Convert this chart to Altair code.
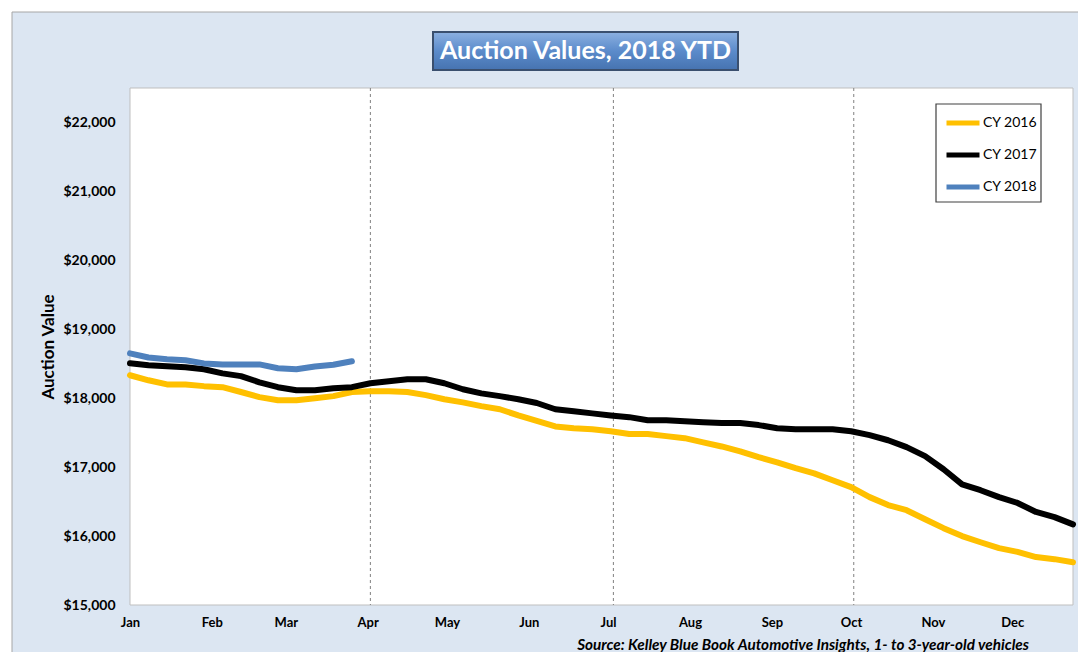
import altair as alt
import pandas as pd

# ---- data ----
week_days = [7 * w for w in range(52)]  # day of year for each weekly point

cy2016 = [18333, 18260, 18200, 18200, 18175, 18160, 18090, 18015, 17970, 17970,
          18000, 18030, 18090, 18100, 18100, 18090, 18045, 17985, 17940, 17885,
          17840, 17750, 17670, 17590, 17565, 17550, 17520, 17480, 17480, 17450,
          17420, 17360, 17300, 17230, 17145, 17070, 16985, 16910, 16810, 16710,
          16565, 16450, 16375, 16245, 16115, 16000, 15910, 15825, 15770, 15695,
          15665, 15620]
cy2017 = [18507, 18478, 18464, 18450, 18420, 18360, 18320, 18230, 18160, 18115,
          18115, 18145, 18160, 18217, 18246, 18275, 18275, 18217, 18130, 18070,
          18030, 17985, 17930, 17840, 17810, 17780, 17750, 17725, 17680, 17680,
          17665, 17650, 17640, 17640, 17610, 17565, 17550, 17550, 17550, 17520,
          17465, 17390, 17290, 17160, 16970, 16750, 16665, 16565, 16480, 16350,
          16275, 16170]
cy2018 = [18650, 18590, 18565, 18550, 18505, 18490, 18490, 18490, 18435, 18420,
          18460, 18485, 18535]

series_names = ["CY 2016", "CY 2017", "CY 2018"]
series_colors = ["#FFC000", "#000000", "#4F81BD"]

month_names = ["Jan", "Feb", "Mar", "Apr", "May", "Jun",
               "Jul", "Aug", "Sep", "Oct", "Nov", "Dec"]
month_start_days = [0, 31, 59, 90, 120, 151, 181, 212, 243, 273, 304, 334]
quarter_days = [91, 183, 274]
y_ticks = [15000, 16000, 17000, 18000, 19000, 20000, 21000, 22000]

title_text = "Auction Values, 2018 YTD"
source_text = "Source: Kelley Blue Book Automotive Insights, 1- to 3-year-old vehicles"

# ---- build tables ----
rows = []
for name, vals in zip(series_names, [cy2016, cy2017, cy2018]):
    for d, v in zip(week_days, vals):
        rows.append({"day": d, "value": v, "series": name})
df = pd.DataFrame(rows)
quarters = pd.DataFrame({"day": quarter_days})
one = pd.DataFrame({"t": [title_text]})
src = pd.DataFrame({"t": [source_text]})

W, H = 943, 517
FONT = "Lato"

label_expr = "{" + ",".join(f"'{d}':'{m}'" for d, m in zip(month_start_days, month_names)) + "}[datum.value]"

x_scale = alt.Scale(domain=[0, 357], nice=False, zero=False)
y_scale = alt.Scale(domain=[15000, 22500], nice=False, zero=False)

# outer light-blue panel
panel = alt.Chart(one).mark_rect(fill="#DCE6F2", stroke="#A6A6A6", strokeWidth=1).encode(
    x=alt.value(-118), x2=alt.value(1000), y=alt.value(-76), y2=alt.value(700)
)
# white plot area
plot_bg = alt.Chart(one).mark_rect(fill="white", stroke="#BFBFBF", strokeWidth=1).encode(
    x=alt.value(0), x2=alt.value(W), y=alt.value(0), y2=alt.value(H)
)
# dashed quarter lines
qlines = alt.Chart(quarters).mark_rule(color="#808080", strokeDash=[3, 3], strokeWidth=1).encode(
    x=alt.X("day:Q", scale=x_scale)
)

# legend frame
legend_box = alt.Chart(one).mark_rect(fill="white", stroke="#404040", strokeWidth=1.2).encode(
    x=alt.value(806), x2=alt.value(911), y=alt.value(16), y2=alt.value(114)
)

lines = alt.Chart(df).mark_line(strokeWidth=6, strokeCap="round", strokeJoin="round").encode(
    x=alt.X("day:Q", scale=x_scale,
            axis=alt.Axis(values=month_start_days, labelExpr=label_expr, title=None,
                          grid=False, ticks=False, domain=False, labelPadding=11,
                          labelFont=FONT, labelFontSize=13, labelFontWeight="bold",
                          labelColor="#000000", labelFlush=False, labelOverlap=False,
                          zindex=1)),
    y=alt.Y("value:Q", scale=y_scale,
            axis=alt.Axis(values=y_ticks, format="$,.0f", title="Auction Value",
                          grid=False, ticks=False, domain=False, labelPadding=15,
                          labelFont=FONT, labelFontSize=14, labelFontWeight="bold",
                          labelColor="#000000", titleFont=FONT, titleFontSize=17,
                          titleFontWeight="bold", titleColor="#000000", titlePadding=6,
                          zindex=1)),
    color=alt.Color("series:N",
                    scale=alt.Scale(domain=series_names, range=series_colors),
                    legend=alt.Legend(title=None, orient="none", legendX=814, legendY=16,
                                      padding=0, symbolType="stroke", symbolStrokeWidth=5,
                                      symbolSize=1089, labelFont=FONT, labelFontSize=14,
                                      labelColor="#000000", labelOffset=1, rowPadding=3,
                                      zindex=2)),
    order=alt.Order("day:Q"),
)

gradient = alt.LinearGradient(
    gradient="linear",
    stops=[alt.GradientStop(color="#8CB0E0", offset=0),
           alt.GradientStop(color="#5B8BCB", offset=0.5),
           alt.GradientStop(color="#4673B0", offset=1)],
    x1=0, x2=0, y1=0, y2=1,
)
title_box = alt.Chart(one).mark_rect(fill=gradient, stroke="#3A4F6E", strokeWidth=2).encode(
    x=alt.value(303), x2=alt.value(608), y=alt.value(-56), y2=alt.value(-18)
)
title_txt = alt.Chart(one).mark_text(font=FONT, fontSize=25, fontWeight="bold", color="white",
                                     align="center", baseline="middle").encode(
    x=alt.value(455.5), y=alt.value(-37), text="t:N"
)
source_txt = alt.Chart(src).mark_text(font=FONT, fontSize=15.3, fontWeight="bold", fontStyle="italic",
                                      color="#000000", align="right", baseline="middle").encode(
    x=alt.value(899), y=alt.value(557), text="t:N"
)

chart = alt.layer(panel, plot_bg, qlines, legend_box, lines, title_box, title_txt, source_txt).properties(
    width=W, height=H,
    autosize=alt.AutoSizeParams(type="none"),
    padding={"left": 130, "top": 88, "right": 5, "bottom": 47},
    background="white",
).configure_view(strokeWidth=0)

chart.save("out.html", embed_options={"renderer": "svg", "actions": False})
